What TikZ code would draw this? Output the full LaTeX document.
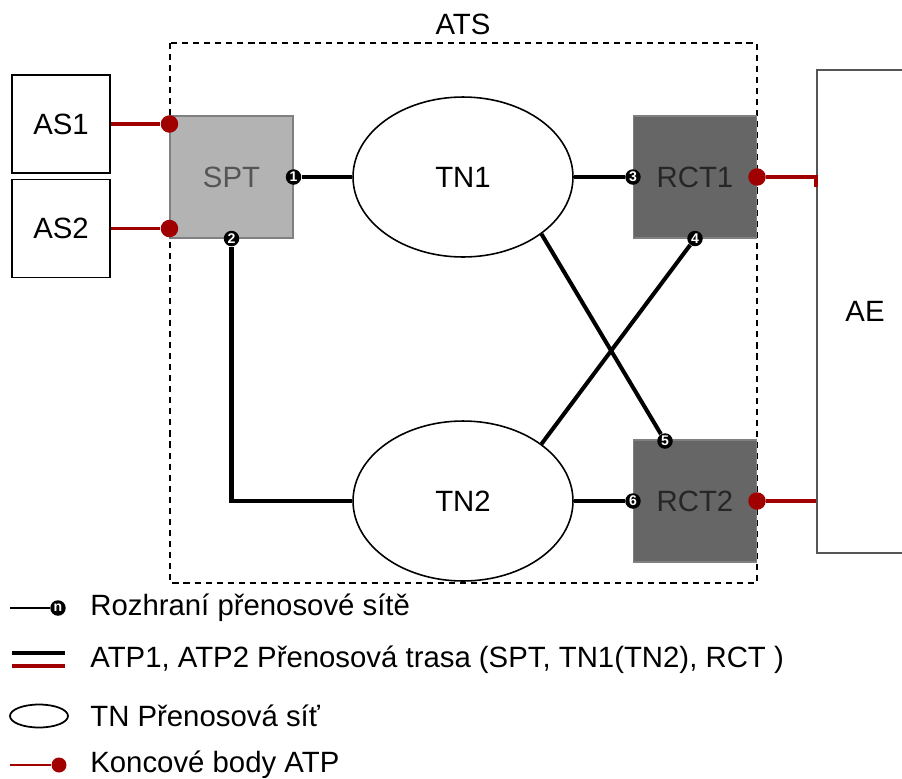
\documentclass[tikz,border=0pt]{standalone}
\usepackage{fontspec}
\setmainfont{Liberation Sans}
\usetikzlibrary{shapes.geometric}
\definecolor{atpred}{HTML}{A00000}
\definecolor{sptgray}{HTML}{B3B3B3}
\definecolor{rctgray}{HTML}{666666}
\definecolor{aegray}{HTML}{555555}

\begin{document}
\begin{tikzpicture}[x=0.02cm, y=-0.02cm,
  txt/.style={font=\fontsize{16.7}{20}\selectfont},
  asbox/.style={txt, draw=black, line width=1pt, minimum width=1.96cm, minimum height=1.96cm, inner sep=0pt},
  unit/.style={txt, draw=gray, line width=0.6pt, minimum width=2.46cm, minimum height=2.44cm, inner sep=0pt},
  tn/.style={txt, ellipse, draw=black, line width=0.9pt, minimum width=4.4cm, minimum height=3.2cm, inner sep=0pt},
  port/.style={circle, fill=black, inner sep=0pt, minimum size=0.31cm, text=white,
    font=\fontsize{8}{8}\selectfont\bfseries},
  endpt/.style={circle, fill=atpred, inner sep=0pt, minimum size=0.35cm},
  link/.style={line width=2.3pt},
  atp/.style={atpred, line width=2pt},
  legtxt/.style={txt, anchor=west, inner sep=0pt},
]
  \useasboundingbox (0,0) rectangle (902,778);
  % hranice ATS
  \draw[line width=1.1pt, dash pattern=on 3.5pt off 2.8pt] (170,43) rectangle (757,583);
  \node[txt] (ats) at (463,24) {ATS};
  % bloky
  \node[asbox] (as1) at (61,124) {AS1};
  \node[asbox] (as2) at (61,228.5) {AS2};
  \node[unit, fill=sptgray, text=aegray] (spt) at (231.5,177) {SPT};
  \node[unit, fill=rctgray, text=black!85] (rct1) at (695,177) {RCT1};
  \node[unit, fill=rctgray, text=black!85] (rct2) at (695,501) {RCT2};
  \node[tn] (tn1) at (463,177) {TN1};
  \node[tn] (tn2) at (463,501) {TN2};
  \node[txt, draw=aegray, line width=1.2pt, minimum width=1.92cm, minimum height=9.66cm] (ae) at (865,311.5) {AE};
  % rozhrani
  \coordinate (c5) at (665,441);
  \node[port] (p1) at (spt.east) {1};
  \node[port] (p2) at (spt.south) {2};
  \node[port] (p3) at (rct1.west) {3};
  \node[port] (p4) at (rct1.south) {4};
  \node[port] (p5) at (c5) {5};
  \node[port] (p6) at (rct2.west) {6};
  % koncove body
  \node[endpt] (e1) at (spt.west |- as1) {};
  \node[endpt] (e2) at (spt.west |- as2) {};
  \node[endpt] (e3) at (rct1.east) {};
  \node[endpt] (e4) at (rct2.east) {};
  % trasy
  \draw[link] (p1) -- (tn1);
  \draw[link] (p2) |- (tn2);
  \draw[link] (tn1) -- (p3);
  \draw[link] (tn2.36) -- (p4);
  \draw[link] (tn1.-36) -- (p5);
  \draw[link] (tn2) -- (p6);
  \draw[atp] (as1) -- (e1);
  \draw[atp] (as2) -- (e2);
  \draw[atp] (e3) -- (e3 -| ae.west) -- ++(0,10);
  \draw[atp] (e4) -- (e4 -| ae.west);
  % legenda
  \coordinate (l1a) at (10,608);
  \node[port] (l1p) at (58,608) {n};
  \draw[line width=1pt] (l1a) -- (l1p);
  \node[legtxt] (l1) at (90,608) {Rozhraní přenosové sítě};
  \draw[line width=2.8pt] (12,653) -- (65,653);
  \draw[atpred, line width=2.8pt] (12,666) -- (65,666);
  \node[legtxt] (l2) at (90,660) {ATP1, ATP2 Přenosová trasa (SPT, TN1(TN2), RCT )};
  \node[ellipse, draw, line width=1pt, minimum width=1.16cm, minimum height=0.46cm, inner sep=0pt] (l3e) at (39,716) {};
  \node[legtxt] (l3) at (90,716) {TN Přenosová síť};
  \coordinate (l4a) at (10,765);
  \node[endpt, minimum size=0.3cm] (l4p) at (59,765) {};
  \draw[atpred, line width=1pt] (l4a) -- (l4p);
  \node[legtxt] (l4) at (90,765) {Koncové body ATP};
\end{tikzpicture}
\end{document}
